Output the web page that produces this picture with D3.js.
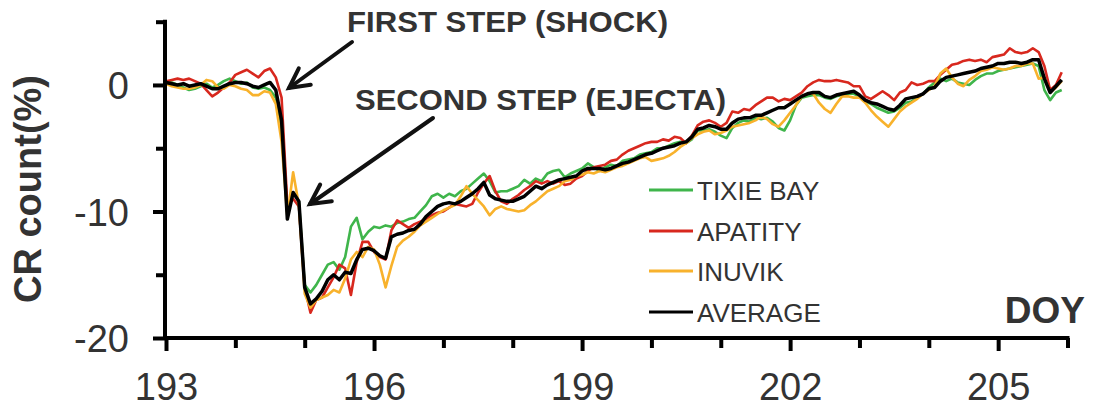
<!DOCTYPE html>
<html><head><meta charset="utf-8">
<script src="https://cdn.jsdelivr.net/npm/d3@7"></script>
<style>
html,body{margin:0;padding:0;background:#fff;}
svg{display:block;}
text{font-family:"Liberation Sans",Arial,Helvetica,sans-serif;}
</style></head>
<body><svg id="chart" width="1094" height="411"></svg>
<script>
// ---- data (2-hour samples starting DOY 193.0) ----
const startDOY = 193, stepDays = 2/24;
const seriesNames = ["TIXIE BAY","APATITY","INUVIK","AVERAGE"];
const seriesColors = ["#3fb54b","#d8281e","#f8b22c","#000000"];
const xTicksMajor = [193,196,199,202,205];
const xTicksMinor = [194,195,197,198,200,201,203,204,206];
const yTicksMajor = [-20,-10,0];
const yTicksMinor = [-15,-5,5];

const tixie = [
 0.3,0.2,0.0,-0.2,-0.4,-0.3,-0.1,0.1,-0.2,0.0,0.3,0.5,
 0.3,0.1,0.2,-0.2,-0.3,-0.2,-0.4,-1.0,-3.5,-10.2,-8.5,-9.2,
 -15.8,-16.4,-15.8,-15.0,-14.2,-14.0,-14.6,-13.6,-11.2,-10.5,-12.2,-11.6,
 -11.2,-11.3,-11.1,-11.2,-10.9,-10.8,-10.6,-10.5,-10.0,-9.5,-8.8,-8.6,
 -8.9,-8.6,-8.8,-8.4,-8.2,-7.8,-7.4,-7.0,-7.6,-8.5,-8.4,-8.4,
 -8.2,-8.0,-7.5,-7.8,-7.4,-7.6,-7.0,-6.8,-6.7,-7.3,-7.0,-6.8,
 -6.6,-6.2,-6.5,-6.8,-6.5,-6.3,-6.4,-6.0,-5.9,-5.8,-5.5,-5.4,
 -5.3,-5.0,-5.0,-4.8,-4.6,-4.5,-4.6,-4.3,-3.6,-3.6,-3.5,-3.7,
 -4.0,-4.2,-3.4,-3.0,-2.8,-2.9,-2.6,-2.7,-2.6,-2.9,-3.4,-3.6,
 -2.8,-1.6,-1.0,-0.9,-0.8,-0.8,-1.0,-1.1,-0.9,-0.8,-0.7,-0.7,
 -0.9,-1.3,-1.5,-1.8,-2.0,-2.2,-2.1,-1.8,-1.4,-1.3,-1.0,-0.7,
 -0.2,0.2,0.5,0.3,0.5,0.2,0.1,0.0,0.4,0.7,0.9,0.9,
 1.1,1.2,1.3,1.4,1.5,1.6,1.7,1.5,-0.4,-1.2,-0.6,-0.4
];
const apatity = [
 0.3,0.4,0.5,0.4,0.5,0.3,0.1,-0.4,-0.9,-0.6,-0.2,0.2,
 0.8,1.0,1.2,0.9,0.6,1.1,1.3,0.6,-1.0,-9.5,-9.0,-9.6,
 -16.0,-18.0,-17.0,-16.8,-16.0,-15.2,-14.2,-14.5,-16.6,-14.0,-12.4,-12.4,
 -13.2,-13.6,-13.8,-11.5,-10.7,-11.0,-11.3,-11.0,-10.8,-10.6,-10.3,-10.1,
 -10.0,-9.7,-9.4,-9.5,-9.6,-9.4,-8.5,-7.8,-7.2,-8.4,-9.2,-9.4,
 -9.0,-8.7,-8.3,-8.0,-7.6,-7.8,-7.6,-7.8,-7.6,-7.9,-7.8,-7.4,
 -7.2,-6.8,-6.5,-6.4,-6.3,-6.0,-5.9,-5.5,-5.2,-5.0,-4.8,-4.6,
 -4.5,-4.5,-4.3,-4.4,-4.1,-4.2,-4.6,-4.0,-3.2,-2.9,-2.8,-3.0,
 -3.3,-3.0,-2.1,-2.2,-1.9,-2.0,-1.6,-1.3,-1.0,-1.0,-1.3,-1.1,
 -1.2,-0.9,-0.6,-0.1,0.2,0.4,0.3,0.3,0.4,0.3,0.2,-0.1,
 -0.1,-0.9,-1.1,-0.8,-0.5,-0.8,-1.2,-0.6,-0.4,0.2,0.0,0.1,
 0.3,0.3,0.8,1.2,1.6,1.7,1.9,2.0,1.9,2.0,1.8,2.2,
 2.3,2.4,2.9,2.6,2.5,2.6,2.9,2.6,1.5,-0.4,0.0,1.0
];
const inuvik = [
 0.1,-0.1,-0.2,-0.3,-0.3,-0.2,0.0,0.4,0.3,-0.2,-0.3,0.0,
 -0.1,-0.3,-0.4,-0.8,-0.8,-0.5,-0.6,-1.5,-4.5,-10.4,-6.9,-9.5,
 -16.5,-17.6,-17.0,-16.8,-16.6,-16.2,-16.4,-15.3,-13.8,-13.2,-13.6,-12.8,
 -13.0,-14.2,-16.0,-14.3,-12.8,-12.3,-12.0,-11.6,-11.1,-10.8,-10.5,-10.2,
 -9.9,-9.7,-9.5,-8.8,-8.0,-8.6,-9.1,-9.6,-10.3,-9.8,-9.6,-9.8,
 -9.9,-10.0,-9.9,-9.5,-9.2,-8.8,-8.4,-8.2,-8.0,-7.6,-7.5,-7.2,
 -7.1,-6.9,-7.0,-6.8,-6.9,-6.7,-6.5,-6.4,-6.2,-6.0,-5.8,-5.7,
 -6.0,-5.9,-5.8,-5.6,-5.3,-4.9,-4.6,-4.2,-3.9,-3.7,-3.6,-3.9,
 -3.8,-3.6,-3.3,-3.2,-3.1,-3.0,-2.8,-2.5,-2.7,-3.1,-3.3,-2.8,
 -2.2,-1.6,-0.9,-0.7,-0.7,-1.4,-1.9,-2.2,-1.5,-0.9,-0.9,-1.0,
 -1.0,-1.4,-2.0,-2.5,-2.9,-3.3,-2.7,-2.1,-1.7,-1.4,-1.1,-0.7,
 -0.4,-0.1,0.9,1.3,0.6,0.1,-0.1,0.4,0.7,1.1,1.2,1.4,
 1.3,1.2,1.3,1.5,1.5,1.7,1.7,0.5,0.6,-0.6,-0.2,0.3
];
const average = [
 0.2,0.1,0.0,0.1,-0.1,0.0,0.1,-0.1,-0.3,-0.3,-0.1,0.1,
 0.2,0.2,0.1,-0.1,-0.2,0.0,0.2,-0.4,-2.8,-10.6,-8.5,-9.2,
 -16.0,-17.3,-16.9,-16.3,-15.4,-15.0,-15.4,-14.8,-14.9,-13.8,-13.0,-12.9,
 -13.1,-13.5,-13.7,-12.0,-11.8,-11.7,-11.5,-11.4,-11.0,-10.4,-10.0,-9.6,
 -9.4,-9.3,-9.4,-9.2,-8.9,-8.6,-8.2,-7.7,-8.7,-9.0,-9.1,-9.2,
 -9.2,-9.0,-8.8,-8.4,-8.0,-8.2,-7.9,-7.7,-7.5,-7.4,-7.3,-7.2,
 -6.8,-6.6,-6.6,-6.6,-6.7,-6.6,-6.4,-6.2,-6.1,-5.9,-5.7,-5.5,
 -5.4,-5.2,-5.0,-4.9,-4.8,-4.6,-4.5,-4.1,-3.5,-3.4,-3.2,-3.3,
 -3.5,-3.5,-3.0,-2.7,-2.6,-2.6,-2.4,-2.4,-2.2,-2.0,-1.8,-1.8,
 -1.5,-1.2,-0.9,-0.7,-0.6,-0.6,-0.9,-1.0,-0.8,-0.7,-0.6,-0.5,
 -0.8,-1.2,-1.4,-1.5,-1.7,-1.9,-2.0,-1.6,-1.1,-1.0,-0.9,-0.7,
 -0.3,-0.2,0.3,0.6,0.7,0.8,0.9,1.0,1.1,1.3,1.4,1.5,
 1.7,1.7,1.8,1.8,1.7,1.8,2.0,2.0,0.5,-0.6,-0.1,0.4
];
const allSeries = [tixie, apatity, inuvik, average];

// ---- drawing ----
const svg = d3.select("#chart");
svg.append("rect").attr("width",1094).attr("height",411).attr("fill","#fff");
const x = d3.scaleLinear().domain([193,206]).range([166,1067.5]);
const y = d3.scaleLinear().domain([-20,5]).range([338,21.7]);
const txt = "#333333";

const line = d3.line()
  .x((d,i) => x(startDOY + i*stepDays))
  .y(d => y(d));

const widths = [2.6,2.6,2.6,3.5];
allSeries.forEach((s,k) => {
  svg.append("path").datum(s)
    .attr("d", line)
    .attr("fill","none")
    .attr("stroke", seriesColors[k])
    .attr("stroke-width", widths[k])
    .attr("stroke-linejoin","round");
});

// axes
function styleAxis(g){
  g.select(".domain").remove();
  g.selectAll(".tick line").attr("stroke","#000").attr("stroke-width",4);
  g.selectAll(".tick text").attr("fill",txt).attr("font-size",38);
}
const yMaj = svg.append("g").attr("transform","translate(165,0)")
  .call(d3.axisLeft(y).tickValues(yTicksMajor).tickSize(12).tickPadding(24).tickFormat(d=>String(d)));
styleAxis(yMaj);
yMaj.selectAll(".tick text").attr("dy","0.36em");
const yMin = svg.append("g").attr("transform","translate(165,0)")
  .call(d3.axisLeft(y).tickValues(yTicksMinor).tickSize(9).tickFormat(""));
styleAxis(yMin);

const xMaj = svg.append("g").attr("transform","translate(0,338)")
  .call(d3.axisBottom(x).tickValues(xTicksMajor).tickSize(13).tickFormat(d=>String(d)));
styleAxis(xMaj);
xMaj.selectAll(".tick text").attr("y",62).attr("dy",0);
const xMin = svg.append("g").attr("transform","translate(0,338)")
  .call(d3.axisBottom(x).tickValues(xTicksMinor).tickSize(10).tickFormat(""));
styleAxis(xMin);

// axis lines
svg.append("line").attr("x1",165).attr("x2",165).attr("y1",y(5)-2).attr("y2",340)
  .attr("stroke","#000").attr("stroke-width",4);
svg.append("line").attr("x1",163).attr("x2",x(206)+2).attr("y1",338).attr("y2",338)
  .attr("stroke","#000").attr("stroke-width",4);

// axis titles
svg.append("text").attr("transform","translate(41,189) rotate(-90)")
  .attr("text-anchor","middle").attr("font-size",38).attr("font-weight","bold")
  .attr("fill",txt).text("CR count(%)");
svg.append("text").attr("x",1085).attr("y",323).attr("text-anchor","end")
  .attr("font-size",37).attr("font-weight","bold").attr("fill",txt).text("DOY");

// legend
const legY = [190,231,271,312];
seriesNames.forEach((n,k) => {
  svg.append("line").attr("x1",649).attr("x2",693).attr("y1",legY[k]).attr("y2",legY[k])
    .attr("stroke",seriesColors[k]).attr("stroke-width",3);
  svg.append("text").attr("x",697).attr("y",legY[k]+9.5).attr("font-size",26)
    .attr("fill",txt).text(n);
});

// annotations
function arrow(x0,y0,x1,y1){
  svg.append("line").attr("x1",x0).attr("y1",y0).attr("x2",x1).attr("y2",y1)
    .attr("stroke","#111").attr("stroke-width",4).attr("stroke-linecap","round");
  const a = Math.atan2(y0-y1, x0-x1), L = 22, sp = 27.5*Math.PI/180;
  const p = [[x1+L*Math.cos(a+sp), y1+L*Math.sin(a+sp)],[x1,y1],[x1+L*Math.cos(a-sp), y1+L*Math.sin(a-sp)]];
  svg.append("path").attr("d", d3.line()(p)).attr("fill","none")
    .attr("stroke","#111").attr("stroke-width",4).attr("stroke-linecap","round").attr("stroke-linejoin","miter");
}
arrow(352,42,289,88);
arrow(433,118,310,204);
svg.append("text").attr("x",347).attr("y",32).attr("font-size",30).attr("font-weight","bold")
  .attr("fill",txt).attr("textLength",321).attr("lengthAdjust","spacingAndGlyphs").text("FIRST STEP (SHOCK)");
svg.append("text").attr("x",355).attr("y",110).attr("font-size",30).attr("font-weight","bold")
  .attr("fill",txt).attr("textLength",371).attr("lengthAdjust","spacingAndGlyphs").text("SECOND STEP (EJECTA)");
</script></body></html>
